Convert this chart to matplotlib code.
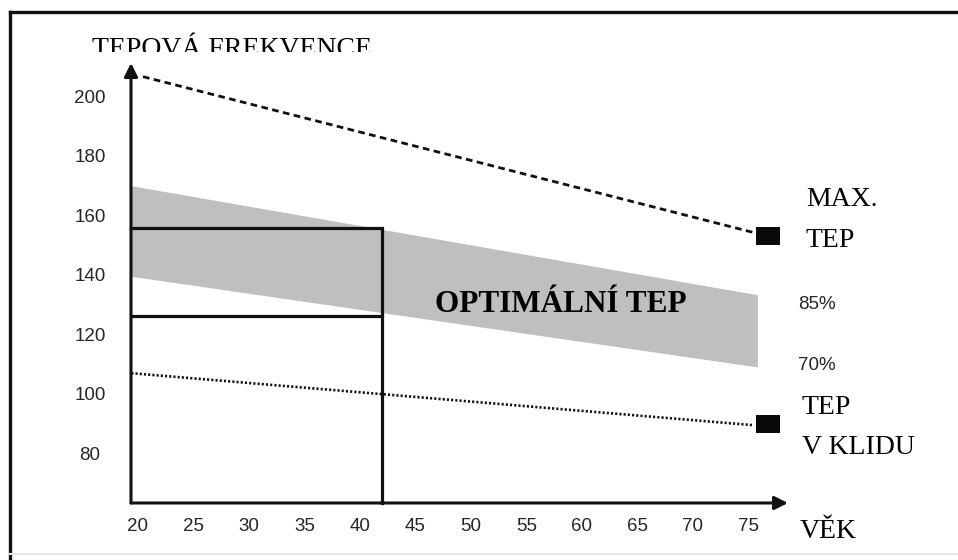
import matplotlib.pyplot as plt
from matplotlib.lines import Line2D
from matplotlib.transforms import Bbox, TransformedBbox

# popisky os
vek_ticks = [20, 25, 30, 35, 40, 45, 50, 55, 60, 65, 70, 75]
tep_ticks = [80, 100, 120, 140, 160, 180, 200]

# pasmo optimalniho tepu (horni hrana 85 %, dolni 70 %)
pasmo_vek = [19.4, 75.8]
pasmo_85 = [170, 133.3]
pasmo_70 = [139.5, 109]

# maximalni tep
max_vek = [20.45, 75.4]
max_tep = [206.7, 154.3]

# tep v klidu
klid_vek = [19.4, 75.4]
klid_tep = [106.9, 89.4]

# koncove ctverecky
znacka_vek = [76.8, 76.8]
znacka_tep = [153.2, 89.8]

# priklad pro vek 42 let
priklad_vek = 42
priklad_od = 126
priklad_do = 155.6

W, H = 958, 560
fig = plt.figure(figsize=(W / 100, H / 100), dpi=100)
fig.patch.set_facecolor('white')

# oblast grafu (od osy y po spicku sipky)
ax = fig.add_axes([131 / W, (H - 503) / H, (788 - 131) / W, (503 - 63) / H])
ax.set_xlim(19.37, 78.56)
ax.set_ylim(63.2, 211.3)
ax.patch.set_alpha(0)
for s in ax.spines.values():
    s.set_visible(False)

# sede pasmo
ax.fill_between(pasmo_vek, pasmo_70, pasmo_85, color='#bfbfbf', linewidth=0)

# maximalni tep - carkovana
ax.plot(max_vek, max_tep, color='#111111', linewidth=2.0, linestyle=(0, (2.4, 1.6)))
# tep v klidu - teckovana
ax.plot(klid_vek, klid_tep, color='#111111', linewidth=1.9, linestyle=(0, (0.8, 0.8)))

# ctverecky na konci car
ctverec = [(-1.35, -1), (1.35, -1), (1.35, 1), (-1.35, 1), (-1.35, -1)]
ax.plot(znacka_vek, znacka_tep, linestyle='none', marker=ctverec, markersize=17.3,
        color='#0a0a0a', markeredgewidth=0, clip_on=False)

# obdelnik s prikladem
y0 = ax.get_ylim()[0]
x0 = ax.get_xlim()[0]
ax.plot([x0, priklad_vek, priklad_vek], [priklad_do, priklad_do, y0], color='#111111',
        linewidth=2.3, solid_joinstyle='miter', clip_on=False)
ax.plot([x0, priklad_vek], [priklad_od, priklad_od], color='#111111', linewidth=2.3)

# osy se sipkami
ax.annotate('', xy=(0, 1), xytext=(0, 0), xycoords='axes fraction',
            arrowprops=dict(arrowstyle='-|>', color='#111111', lw=2.2, mutation_scale=20,
                            shrinkA=0, shrinkB=0))
ax.annotate('', xy=(1, 0), xytext=(0, 0), xycoords='axes fraction',
            arrowprops=dict(arrowstyle='-|>', color='#111111', lw=2.2, mutation_scale=20,
                            shrinkA=0, shrinkB=0))

# popisky na osach
ax.set_xticks(vek_ticks)
ax.set_xticklabels([str(v) for v in vek_ticks])
ax.set_yticks(tep_ticks)
ax.set_yticklabels([str(v) for v in tep_ticks])
ax.tick_params(axis='x', length=0, pad=10.5, labelsize=13.5, labelcolor='#262626')
ax.tick_params(axis='y', length=0, pad=29.5, labelsize=13.5, labelcolor='#262626')
for lbl in ax.get_yticklabels():
    lbl.set_horizontalalignment('center')
for lbl in ax.get_xticklabels() + ax.get_yticklabels():
    lbl.set_family('Liberation Sans')


def px(x, y):
    return x / W, 1 - y / H


serif = 'Liberation Serif'
sans = 'Liberation Sans'

# nadpis osy y (spodek je oriznuty)
t = fig.text(*px(92, 55.5), 'TEPOVÁ FREKVENCE', family=serif, fontsize=20, va='baseline')
t.set_clip_box(TransformedBbox(Bbox([[0, 1 - 52 / H], [1, 1]]), fig.transFigure))
t.set_clip_on(True)

fig.text(*px(806, 206), 'MAX.', family=serif, fontsize=20, va='baseline')
fig.text(*px(806, 247), 'TEP', family=serif, fontsize=20, va='baseline')
fig.text(*px(798, 308.7), '85%', family=sans, fontsize=13.5, va='baseline', color='#262626')
fig.text(*px(798, 370.5), '70%', family=sans, fontsize=13.5, va='baseline', color='#262626')
fig.text(*px(802, 414), 'TEP', family=serif, fontsize=20, va='baseline')
fig.text(*px(802, 454), 'V KLIDU', family=serif, fontsize=20, va='baseline')
fig.text(*px(800, 538), 'VĚK', family=serif, fontsize=20, va='baseline')
fig.text(*px(435, 312), 'OPTIMÁLNÍ TEP', family=serif, fontsize=22.5, fontweight='bold',
         va='baseline')

# ramecek obrazku
fig.add_artist(Line2D([10 / W, 1], [1 - 12 / H, 1 - 12 / H], color='#111111', linewidth=2.4,
                      transform=fig.transFigure))
fig.add_artist(Line2D([10 / W, 10 / W], [0, 1 - 12 / H], color='#111111', linewidth=2.4,
                      transform=fig.transFigure))
fig.add_artist(Line2D([10 / W, 1], [1 - 554 / H, 1 - 554 / H], color='#e6e6e6', linewidth=1.5,
                      transform=fig.transFigure))

fig.savefig('out.png', dpi=100)
